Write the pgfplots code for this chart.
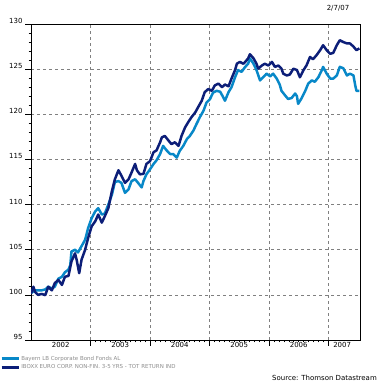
\documentclass[border=0pt]{standalone}
\usepackage{pgfplots}
\pgfplotsset{compat=1.18}
\usepackage{fontspec}
\setmainfont{DejaVu Sans}
\definecolor{lightb}{RGB}{8,136,200}
\definecolor{darkb}{RGB}{12,30,120}
\definecolor{gridg}{RGB}{128,128,128}
\pgfplotstableread{
t v
2002.00 100.15
2002.04 100.9
2002.07 100.3
2002.12 100.0
2002.18 100.1
2002.24 99.97
2002.29 100.9
2002.35 100.5
2002.40 101.3
2002.46 101.65
2002.52 101.1
2002.57 102.0
2002.63 102.1
2002.68 103.7
2002.74 104.6
2002.77 103.8
2002.81 102.4
2002.85 103.9
2002.91 105.0
2002.96 106.3
2003.02 107.6
2003.08 108.15
2003.13 108.9
2003.19 108.0
2003.24 108.7
2003.30 109.6
2003.36 111.5
2003.41 112.8
2003.47 113.8
2003.52 113.2
2003.58 112.4
2003.64 112.8
2003.69 113.55
2003.75 114.5
2003.78 113.8
2003.83 113.35
2003.89 113.4
2003.94 114.5
2004.00 114.8
2004.06 115.8
2004.11 116.0
2004.17 116.9
2004.20 117.45
2004.25 117.6
2004.31 117.1
2004.36 116.7
2004.42 116.9
2004.48 116.5
2004.53 117.6
2004.59 118.55
2004.64 119.1
2004.70 119.7
2004.76 120.2
2004.81 120.8
2004.87 121.5
2004.92 122.45
2004.98 122.8
2005.04 122.6
2005.09 123.2
2005.15 123.4
2005.21 123.0
2005.26 123.3
2005.32 123.1
2005.37 123.95
2005.43 124.9
2005.46 125.6
2005.51 125.8
2005.57 125.6
2005.60 125.8
2005.65 126.2
2005.68 126.65
2005.74 126.2
2005.79 125.6
2005.82 125.05
2005.88 125.4
2005.93 125.6
2005.99 125.4
2006.05 125.8
2006.10 125.25
2006.16 125.4
2006.21 125.05
2006.24 124.5
2006.30 124.3
2006.35 124.4
2006.41 125.05
2006.47 124.9
2006.52 124.1
2006.58 124.9
2006.63 125.4
2006.69 126.35
2006.74 126.1
2006.80 126.55
2006.86 127.1
2006.91 127.65
2006.97 127.1
2007.03 126.7
2007.08 126.8
2007.14 127.65
2007.19 128.2
2007.25 128.0
2007.31 127.85
2007.36 127.85
2007.42 127.5
2007.47 127.1
2007.52 127.3
}\darktab
\pgfplotstableread{
t v
2002.00 100.2
2002.07 100.5
2002.12 100.5
2002.18 100.5
2002.24 100.6
2002.29 100.9
2002.35 100.7
2002.40 100.9
2002.46 101.8
2002.52 102.0
2002.57 102.5
2002.63 102.8
2002.66 103.3
2002.68 104.8
2002.74 105.0
2002.79 104.7
2002.85 105.4
2002.91 106.1
2002.96 107.4
2003.02 108.5
2003.08 109.25
2003.13 109.6
2003.19 108.9
2003.24 109.0
2003.30 110.0
2003.36 111.1
2003.41 112.5
2003.47 112.6
2003.52 112.4
2003.58 111.3
2003.64 111.7
2003.69 112.6
2003.75 112.8
2003.80 112.4
2003.86 111.9
2003.89 112.6
2003.94 113.35
2004.00 113.9
2004.06 114.5
2004.11 114.9
2004.17 115.6
2004.22 116.5
2004.28 116.0
2004.34 115.6
2004.39 115.6
2004.45 115.2
2004.50 115.95
2004.56 116.5
2004.62 117.25
2004.67 117.6
2004.73 118.2
2004.78 118.9
2004.84 119.7
2004.90 120.4
2004.95 121.3
2005.01 121.7
2005.06 122.4
2005.12 122.6
2005.18 122.5
2005.23 121.9
2005.26 121.5
2005.32 122.45
2005.37 123.0
2005.43 124.1
2005.48 124.9
2005.54 124.7
2005.60 125.25
2005.65 125.6
2005.68 126.2
2005.74 125.6
2005.79 124.9
2005.85 123.75
2005.90 124.1
2005.96 124.5
2006.02 124.2
2006.07 124.5
2006.13 123.95
2006.18 123.3
2006.21 122.6
2006.27 122.1
2006.32 121.7
2006.38 121.8
2006.44 122.3
2006.47 122.0
2006.49 121.15
2006.55 121.8
2006.61 122.6
2006.66 123.4
2006.72 123.75
2006.77 123.6
2006.83 124.1
2006.89 124.9
2006.91 125.25
2006.97 124.5
2007.03 123.95
2007.08 123.95
2007.14 124.3
2007.19 125.25
2007.25 125.1
2007.31 124.3
2007.36 124.5
2007.42 124.3
2007.45 123.2
2007.47 122.6
2007.52 122.6
}\lighttab
\begin{document}
\begin{tikzpicture}
\path[use as bounding box] (-31bp,-45bp) rectangle (354bp,340bp);
\begin{axis}[
  at={(0,0)}, anchor=south west,
  scale only axis, width=329bp, height=316bp,
  xmin=2002, xmax=2007.53, ymin=95, ymax=130,
  /pgf/number format/assume math mode=true,
  /pgf/number format/1000 sep={},
  axis line style={black, line width=0.9pt},
  tick align=outside,
  xtick pos=bottom, ytick pos=left,
  tick style={black, line width=0.6pt},
  xtick={2003,2004,2005,2006,2007},
  xticklabels={},
  minor x tick num=11,
  major tick length=6bp, minor tick length=2.5bp,
  extra x ticks={2002.5,2003.5,2004.5,2005.5,2006.5,2007.23},
  extra x tick labels={2002,2003,2004,2005,2006,2007},
  extra x tick style={major tick length=0pt, grid=none},
  xticklabel style={font=\fontsize{7}{8}\selectfont, yshift=1bp},
  ytick={95,100,...,130},
  minor y tick num=4,
  yticklabel style={font=\fontsize{7}{8}\selectfont, yshift=3bp, xshift=1bp},
  xmajorgrids, ymajorgrids,
  grid style={gridg, dash pattern=on 3bp off 3bp, line width=0.6pt},
  legend style={at={(-0.094,-0.045)}, anchor=north west, draw=none, fill=none,
    inner sep=0pt, row sep=0bp, font=\fontsize{5.5}{6.5}\selectfont, text=black!45,
    nodes={inner sep=1.5pt}},
  legend cell align=left,
  legend image code/.code={\draw[#1,line width=2.5pt] (0bp,0bp) -- (17bp,0bp);},
]
\addplot[lightb, line width=2.5pt, line join=round] table[x=t,y=v] {\lighttab};
\addlegendentry{Bayern LB Corporate Bond Fonds AL}
\addplot[darkb, line width=2.5pt, line join=round] table[x=t,y=v] {\darktab};
\addlegendentry{IBOXX EURO CORP. NON-FIN. 3-5 YRS - TOT RETURN IND}
\end{axis}
\node[font=\fontsize{7}{8}\selectfont, anchor=center] at (307bp,332bp) {2/7/07};
\node[font=\fontsize{7}{8}\selectfont, anchor=east, inner sep=0pt] at (346bp,-38bp) {Source: Thomson Datastream};
\end{tikzpicture}
\end{document}
